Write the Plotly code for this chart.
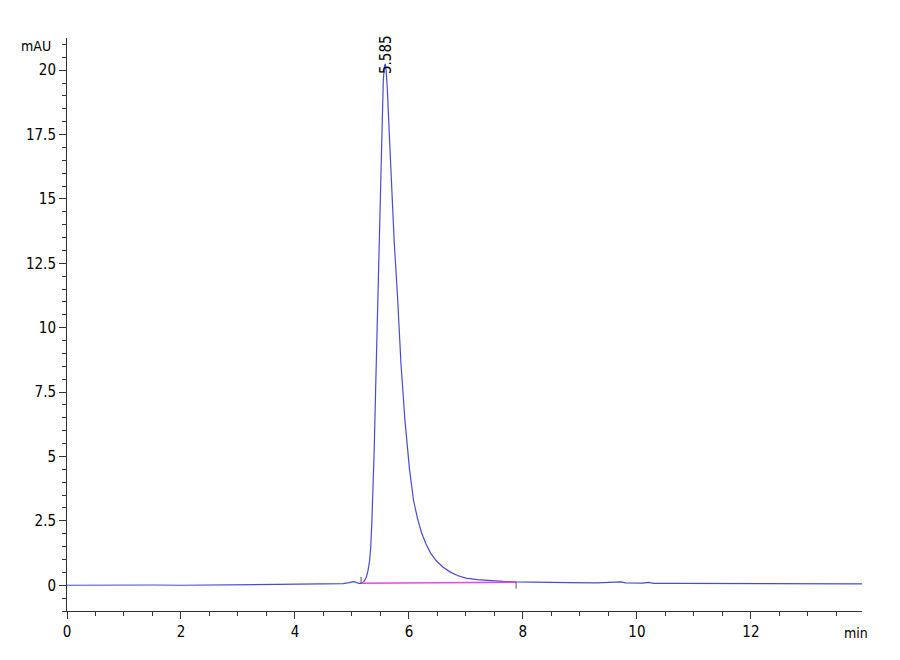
import plotly.graph_objects as go

# chromatogram signal (time in min, signal in mAU)
time_min = [0.0, 0.5, 1.0, 1.5, 2.0, 2.5, 3.0, 3.5, 4.0, 4.5, 4.7, 4.85, 4.95, 5.02, 5.07,
            5.12, 5.16, 5.21, 5.25, 5.28, 5.31, 5.33, 5.35, 5.37, 5.39, 5.42, 5.45, 5.48,
            5.51, 5.53, 5.55, 5.57, 5.585, 5.60, 5.62, 5.66, 5.70, 5.74, 5.80, 5.86, 5.93,
            6.01, 6.08, 6.15, 6.22, 6.30, 6.38, 6.48, 6.60, 6.72, 6.85, 7.0, 7.2, 7.41,
            7.65, 7.88, 8.2, 8.8, 9.3, 9.65, 9.72, 9.8, 10.1, 10.2, 10.3, 10.8, 11.5, 12.0,
            12.5, 12.9, 13.4, 13.95]
signal_mau = [0.0, 0.01, 0.0, 0.01, 0.0, 0.01, 0.01, 0.02, 0.02, 0.03, 0.04, 0.06, 0.1, 0.14, 0.12,
              0.07, 0.07, 0.14, 0.3, 0.55, 0.95, 1.5, 2.5, 3.8, 5.2, 8.0, 10.8, 13.5,
              16.3, 18.2, 19.6, 20.15, 20.25, 20.0, 19.3, 17.3, 15.3, 13.4, 11.2, 8.6, 6.4,
              4.5, 3.3, 2.6, 2.05, 1.6, 1.25, 0.95, 0.7, 0.52, 0.38, 0.28, 0.22, 0.18,
              0.15, 0.13, 0.11, 0.1, 0.09, 0.1, 0.13, 0.09, 0.08, 0.11, 0.07, 0.07, 0.07, 0.06,
              0.07, 0.06, 0.06, 0.05]

# integration baseline and peak markers
baseline_time = [5.16, 7.88]
baseline_mau = [0.08, 0.12]
peak_rt = 5.585
peak_top = 20.6

x_ticks = [0, 2, 4, 6, 8, 10, 12]
y_ticks = [0, 2.5, 5, 7.5, 10, 12.5, 15, 17.5, 20]
y_labels = ["0", "2.5", "5", "7.5", "10", "12.5", "15", "17.5", "20"]

font_main = "Liberation Sans Narrow, Arial Narrow, DejaVu Sans Condensed, Liberation Sans, Arial, sans-serif"

fig = go.Figure()
fig.add_trace(go.Scatter(x=time_min, y=signal_mau, mode="lines",
                         line=dict(color="#4a4ad8", width=1.2), hoverinfo="skip"))
fig.add_trace(go.Scatter(x=baseline_time, y=baseline_mau, mode="lines",
                         line=dict(color="#f040f0", width=1.5), hoverinfo="skip"))
# start / end tick marks of the integrated peak
fig.add_trace(go.Scatter(x=[baseline_time[0], baseline_time[0]],
                         y=[baseline_mau[0], baseline_mau[0] + 0.25], mode="lines",
                         line=dict(color="#555555", width=1), hoverinfo="skip"))
fig.add_trace(go.Scatter(x=[baseline_time[1], baseline_time[1]],
                         y=[baseline_mau[1], baseline_mau[1] - 0.25], mode="lines",
                         line=dict(color="#555555", width=1), hoverinfo="skip"))

fig.add_annotation(x=peak_rt, y=peak_top, text="5.585", textangle=-90, showarrow=False,
                   xanchor="center", yanchor="middle",
                   font=dict(family=font_main, size=15, color="#000000"))
fig.add_annotation(xref="paper", yref="paper", x=0, y=1, text="mAU", showarrow=False,
                   xanchor="right", yanchor="middle", xshift=-14, yshift=-8,
                   font=dict(family=font_main, size=14, color="#000000"))
fig.add_annotation(xref="paper", yref="paper", x=1, y=0, text="min", showarrow=False,
                   xanchor="center", yanchor="top", xshift=-6, yshift=-12,
                   font=dict(family=font_main, size=14, color="#000000"))

# page body adds ~8px offset, so margins are shifted to line up with the reference
fig.update_layout(
    width=900, height=660,
    margin=dict(l=59, r=46, t=30, b=57),
    paper_bgcolor="white", plot_bgcolor="white",
    showlegend=False,
    font=dict(family=font_main, size=15, color="#000000"),
)
fig.update_xaxes(range=[0, 13.95], tickvals=x_ticks, showgrid=False, zeroline=False,
                 showline=True, linecolor="#333333", linewidth=1,
                 ticks="outside", ticklen=7, tickcolor="#333333",
                 minor=dict(dtick=0.5, tick0=0, ticks="outside", ticklen=4, tickcolor="#333333"))
fig.update_yaxes(range=[-1.0, 21.25], tickvals=y_ticks, ticktext=y_labels,
                 showgrid=False, zeroline=False,
                 showline=True, linecolor="#333333", linewidth=1,
                 ticks="outside", ticklen=7, tickcolor="#333333",
                 minor=dict(dtick=0.5, tick0=0, ticks="outside", ticklen=4, tickcolor="#333333"))

fig.write_html("out.html")
